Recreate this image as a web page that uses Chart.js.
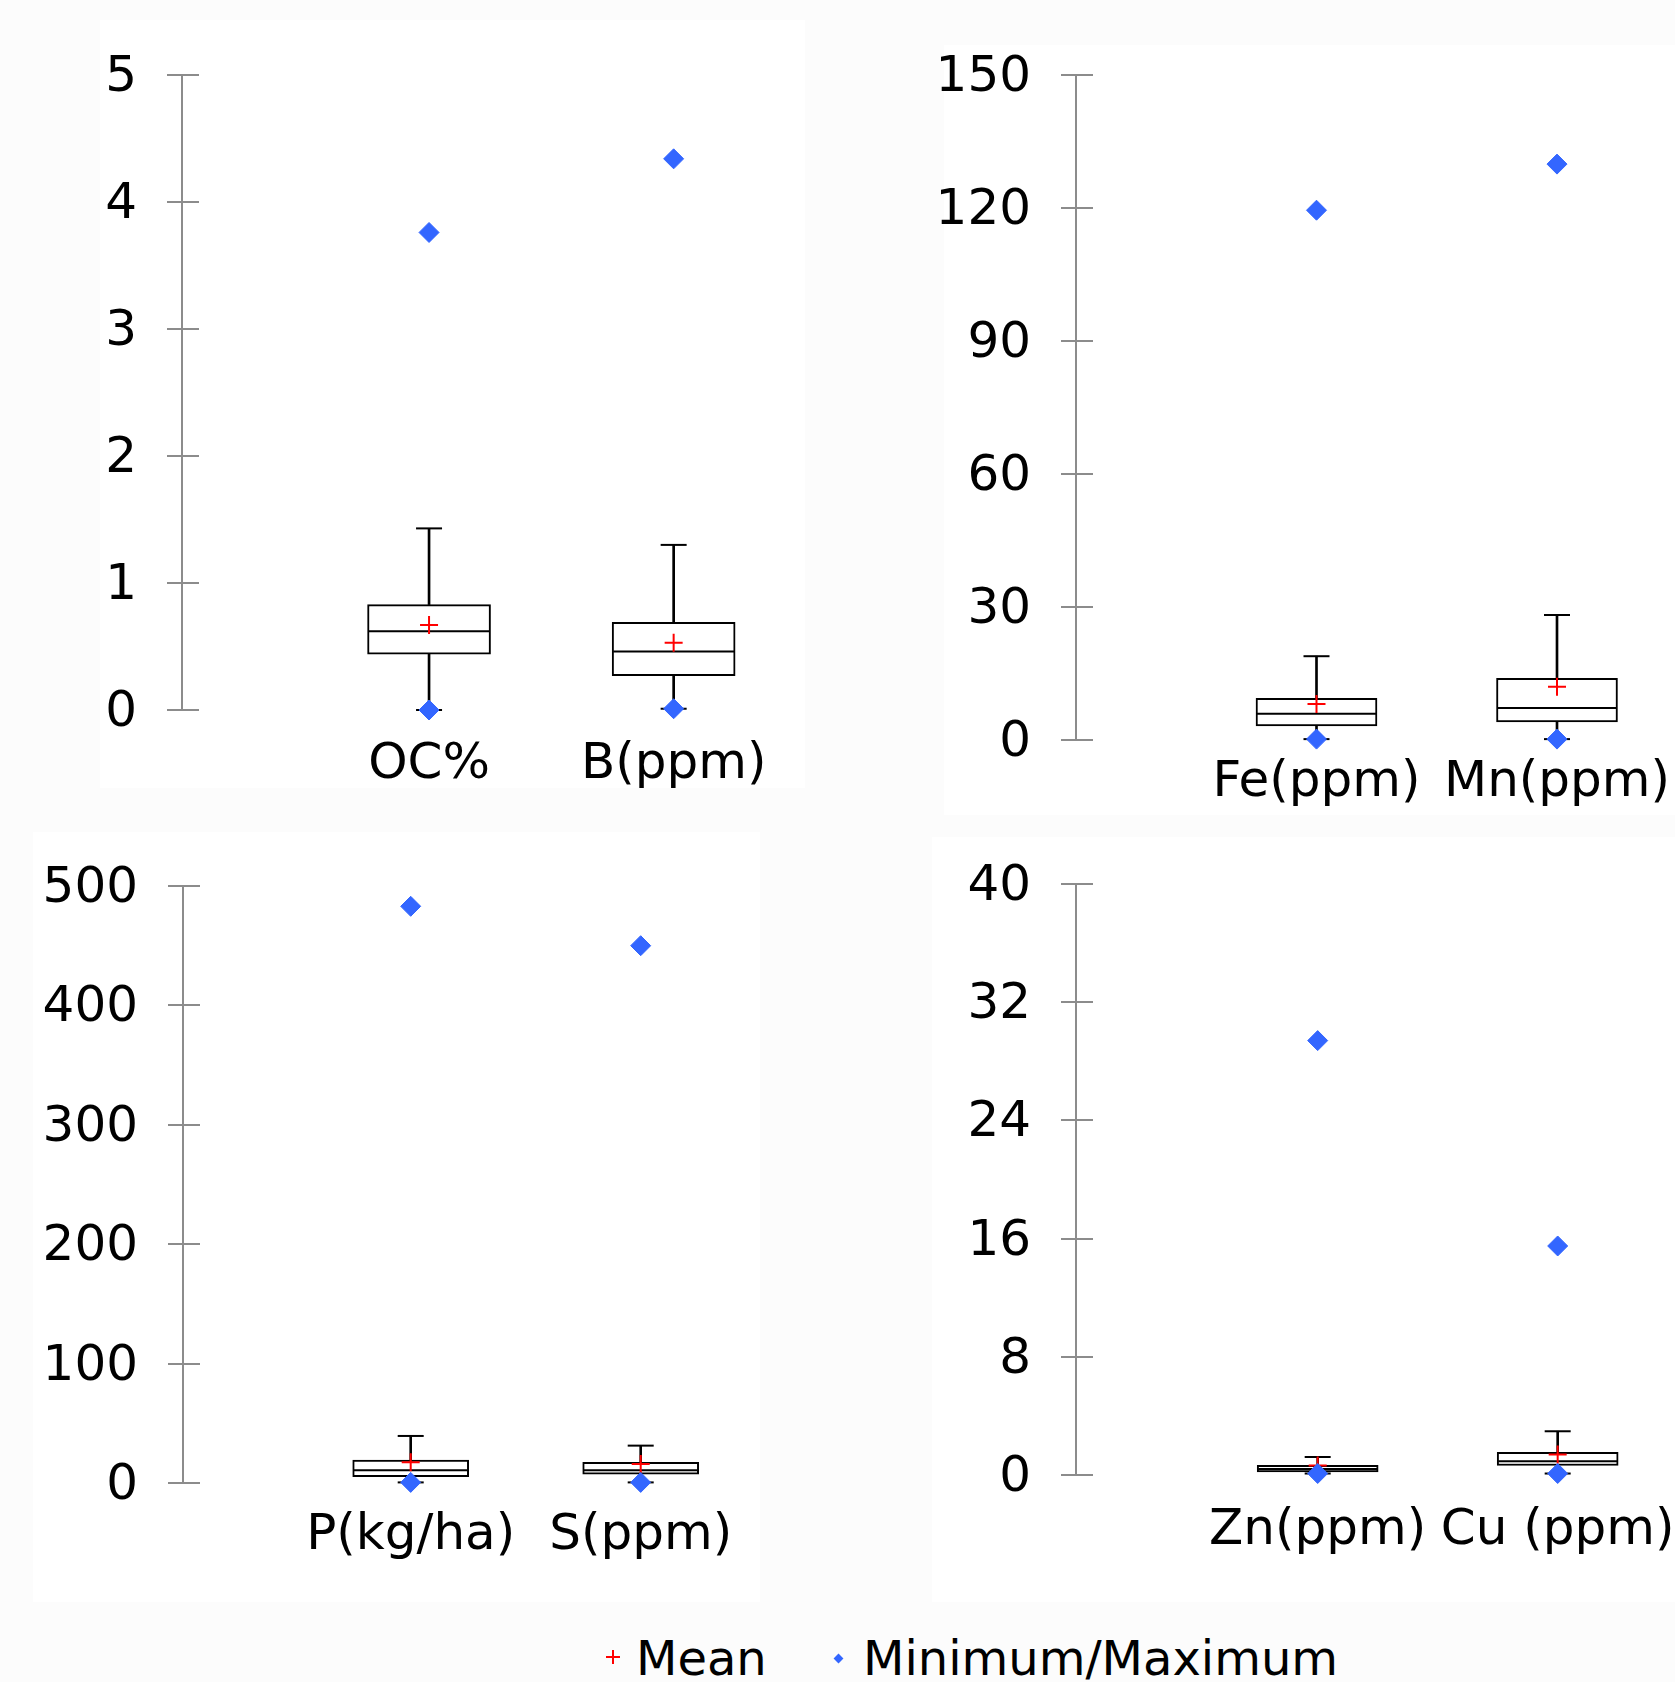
<!DOCTYPE html>
<html><head><meta charset="utf-8">
<script src="https://cdn.jsdelivr.net/npm/chart.js@4.4.0/dist/chart.umd.min.js"></script>
<style>
html,body{margin:0;padding:0;background:#fcfcfc;width:1675px;height:1682px;overflow:hidden;font-family:'DejaVu Sans',sans-serif;}
.panel{position:absolute;background:#fff;}
canvas{position:absolute;}
.leg{position:absolute;font-size:48px;line-height:48px;color:#000;white-space:nowrap;}
</style></head><body>
<div class="panel" style="left:100px;top:20px;width:705px;height:768px"></div>
<div class="panel" style="left:944px;top:45px;width:731px;height:770px"></div>
<div class="panel" style="left:33px;top:832px;width:727px;height:770px"></div>
<div class="panel" style="left:932px;top:837px;width:743px;height:765px"></div>
<canvas id="c1" width="830" height="800" style="left:0;top:0"></canvas>
<canvas id="c2" width="835" height="820" style="left:840px;top:0"></canvas>
<canvas id="c3" width="790" height="800" style="left:0;top:800px"></canvas>
<canvas id="c4" width="835" height="800" style="left:840px;top:800px"></canvas>
<div style="position:absolute;left:606px;top:1656px;width:14px;height:2px;background:#ff0000"></div>
<div style="position:absolute;left:612px;top:1650px;width:2px;height:14px;background:#ff0000"></div>
<div class="leg" style="left:636px;top:1634px">Mean</div>
<div style="position:absolute;left:835px;top:1655px;width:7px;height:7px;background:#3366ff;transform:rotate(45deg)"></div>
<div class="leg" style="left:863px;top:1634px">Minimum/Maximum</div>
<script>
// ---- Data ----
const labelsOC = ['OC%', 'B(ppm)'];
const minOC   = [0.00, 0.01];
const q1OC    = [0.44, 0.27];
const medOC   = [0.62, 0.46];
const q3OC    = [0.83, 0.69];
const whiskOC = [1.43, 1.30];
const meanOC  = [0.67, 0.53];
const maxOC   = [3.76, 4.34];
const ticksOC = [0, 1, 2, 3, 4, 5];

const labelsFe = ['Fe(ppm)', 'Mn(ppm)'];
const minFe   = [0.2, 0.2];
const q1Fe    = [3.2, 4.1];
const medFe   = [5.9, 7.2];
const q3Fe    = [9.4, 13.9];
const whiskFe = [18.9, 28.2];
const meanFe  = [8.1, 12.0];
const maxFe   = [119.5, 129.9];
const ticksFe = [0, 30, 60, 90, 120, 150];

const labelsP = ['P(kg/ha)', 'S(ppm)'];
const minP    = [0.5, 0.5];
const q1P     = [5.3, 7.3];
const medP    = [10.6, 10.6];
const q3P     = [19.3, 17.4];
const whiskP  = [39.4, 31.3];
const meanP   = [17.4, 15.9];
const maxP    = [483, 450];
const ticksP  = [0, 100, 200, 300, 400, 500];

const labelsZn = ['Zn(ppm)', 'Cu (ppm)'];
const minZn   = [0.1, 0.1];
const q1Zn    = [0.21, 0.64];
const medZn   = [0.41, 0.93];
const q3Zn    = [0.66, 1.54];
const whiskZn = [1.22, 2.96];
const meanZn  = [0.64, 1.38];
const maxZn   = [29.4, 15.5];
const ticksZn = [0, 8, 16, 24, 32, 40];

// ---- Rendering ----
Chart.defaults.font.family = "'DejaVu Sans', sans-serif";
Chart.defaults.color = '#000';
const AXIS = '#8c8c8c';

const innerTicks = {
  id: 'innerTicks',
  afterDraw(chart) {
    const y = chart.scales.y, ctx = chart.ctx;
    ctx.save();
    ctx.strokeStyle = AXIS; ctx.lineWidth = 2;
    y.ticks.forEach((t, i) => {
      const py = Math.round(y.getPixelForTick(i));
      ctx.beginPath(); ctx.moveTo(y.right, py); ctx.lineTo(y.right + 17, py); ctx.stroke();
    });
    ctx.restore();
  }
};

function build(id, d, lay) {
  const xs = d.labels.map((_, i) => i + 1);
  const pts = arr => arr.map((v, i) => ({x: xs[i], y: v}));
  const rng = (a, b) => a.map((v, i) => ({x: xs[i], y: [v, b[i]]}));
  const cv = document.getElementById(id);
  const W = cv.width;
  const chart = new Chart(cv, {
    type: 'scatter',
    data: { datasets: [
      {type:'scatter', label:'Minimum/Maximum', data: pts(d.min).concat(pts(d.max)), pointStyle:'rectRot', radius:10, hoverRadius:10, backgroundColor:'#3366ff', borderColor:'#3366ff', borderWidth:1, clip:false, order:0},
      {type:'scatter', label:'Mean', data: pts(d.mean), pointStyle:'cross', radius:9, hoverRadius:9, borderColor:'#ff0000', borderWidth:2, clip:false, order:1},
      {type:'scatter', label:'Median', data: pts(d.med), pointStyle:'line', radius: lay.box/2 - 1, hoverRadius: lay.box/2 - 1, borderColor:'#000', borderWidth:2, clip:false, order:2},
      {type:'scatter', label:'Caps', data: pts(d.whisk).concat(pts(d.min)), pointStyle:'line', radius:13, hoverRadius:13, borderColor:'#000', borderWidth:2, clip:false, order:3},
      {type:'bar', label:'Box', data: rng(d.q1, d.q3), backgroundColor:'#fff', borderColor:'#000', borderWidth:2, borderSkipped:false, barThickness: lay.box, grouped:false, clip:false, order:4},
      {type:'bar', label:'Upper', data: rng(d.q3, d.whisk), backgroundColor:'#000', borderWidth:0, barThickness:2, grouped:false, clip:false, order:5},
      {type:'bar', label:'Lower', data: rng(d.min, d.q1), backgroundColor:'#000', borderWidth:0, barThickness:2, grouped:false, clip:false, order:6}
    ]},
    options: {
      responsive: false, animation: false, events: [],
      layout: { padding: { top: lay.top, left: 0, right: 0, bottom: 0 } },
      plugins: { legend: {display:false}, tooltip: {enabled:false} },
      scales: {
        x: {
          type: 'linear', min: lay.xMin, max: lay.xMin + (W - lay.yW) / lay.unit, offset: false,
          grid: {display:false, drawTicks:false, offset:false},
          border: {display:false},
          afterBuildTicks: s => { s.ticks = [{value: s.min}].concat(xs.map(v => ({value: v}))).concat([{value: s.max}]); },
          ticks: {
            align: 'inner', autoSkip: false, maxRotation: 0, minRotation: 0,
            padding: lay.xPad, font: {size: 50},
            callback: v => (Number.isInteger(v) && v >= 1 && v <= d.labels.length) ? d.labels[v - 1] : ''
          },
          afterFit: s => { s.height = lay.xH; }
        },
        y: {
          type: 'linear', min: d.ticks[0], max: d.ticks[d.ticks.length - 1],
          grid: {drawOnChartArea:false, drawTicks:true, tickLength:15, color:AXIS, lineWidth:2},
          border: {display:true, color:AXIS, width:2},
          ticks: {stepSize: d.ticks[1] - d.ticks[0], padding: 30, labelOffset: 3, font: {size: 50}, color:'#000'},
          afterFit: s => { s.width = lay.yW; }
        }
      }
    },
    plugins: [innerTicks]
  });
  // set the x range so that one category step spans the wanted pixel distance
  for (let k = 0; k < 6; k++) {
    const sx = chart.scales.x;
    const want = lay.xMin + (sx.right - sx.left) / lay.unit;
    if (Math.abs(want - chart.options.scales.x.max) < 1e-5) break;
    chart.options.scales.x.max = want;
    chart.update('none');
  }
}

build('c1', {labels:labelsOC, min:minOC, q1:q1OC, med:medOC, q3:q3OC, whisk:whiskOC, mean:meanOC, max:maxOC, ticks:ticksOC},
  {yW:182, top:75, xH:90, xPad:25, xMin:-0.01, unit:244.6, box:123});
build('c2', {labels:labelsFe, min:minFe, q1:q1Fe, med:medFe, q3:q3Fe, whisk:whiskFe, mean:meanFe, max:maxFe, ticks:ticksFe},
  {yW:236, top:75, xH:80, xPad:13, xMin:0, unit:240.5, box:121});
build('c3', {labels:labelsP, min:minP, q1:q1P, med:medP, q3:q3P, whisk:whiskP, mean:meanP, max:maxP, ticks:ticksP},
  {yW:183, top:86, xH:117, xPad:23, xMin:0.01, unit:230, box:116});
build('c4', {labels:labelsZn, min:minZn, q1:q1Zn, med:medZn, q3:q3Zn, whisk:whiskZn, mean:meanZn, max:maxZn, ticks:ticksZn},
  {yW:236, top:84, xH:125, xPad:26, xMin:-0.007, unit:240, box:121});
</script>
</body></html>
